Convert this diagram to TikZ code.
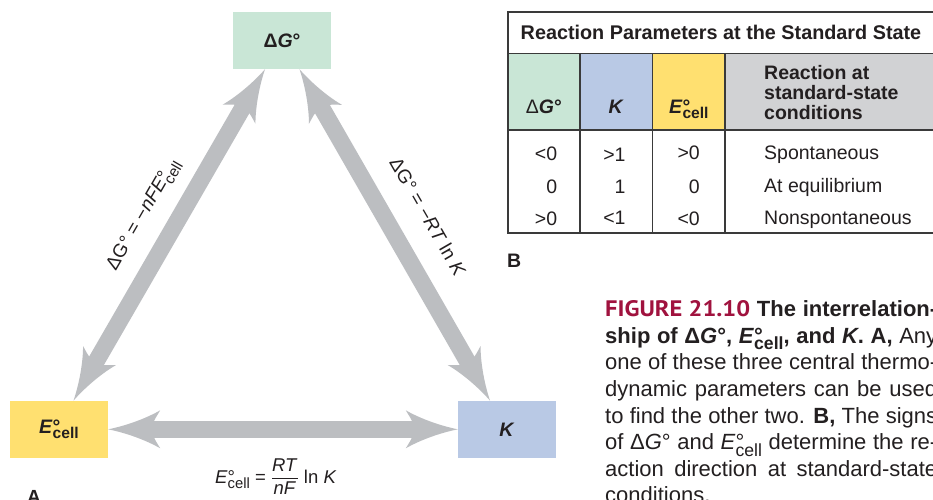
\documentclass[tikz,border=0pt]{standalone}
\usepackage{fontspec}
\setmainfont{Liberation Sans}
\newfontfamily\figfont{PT Sans}
\usetikzlibrary{arrows.meta,calc}
\definecolor{ink}{HTML}{231F20}
\definecolor{gboxc}{HTML}{C9E6D6}
\definecolor{kboxc}{HTML}{B9C9E5}
\definecolor{eboxc}{HTML}{FFE070}
\definecolor{hgray}{HTML}{D1D2D4}
\definecolor{arrgray}{HTML}{BCBEC1}
\definecolor{tline}{HTML}{3A3A3A}
\definecolor{figred}{HTML}{A0123E}
\newcommand{\dsub}[1]{\rlap{°}\raisebox{-0.3em}{\scalebox{0.8}{#1}}}
\pgfdeclarearrow{
  name = Flare,
  setup code = {
    \pgfarrowssettipend{0pt}
    \pgfarrowssetlineend{-40pt}
    \pgfarrowssetvisualbackend{-52pt}
    \pgfarrowssetbackend{-52pt}
    \pgfarrowshullpoint{0pt}{0pt}
    \pgfarrowshullpoint{-52pt}{19pt}
    \pgfarrowshullpoint{-52pt}{-19pt}
  },
  drawing code = {
    \pgfpathmoveto{\pgfpoint{0pt}{0pt}}
    \pgfpathcurveto{\pgfpoint{-20pt}{4pt}}{\pgfpoint{-40pt}{12pt}}{\pgfpoint{-52pt}{19pt}}
    \pgfpathcurveto{\pgfpoint{-49pt}{14pt}}{\pgfpoint{-47pt}{11pt}}{\pgfpoint{-46pt}{8.5pt}}
    \pgfpathlineto{\pgfpoint{-46pt}{-8.5pt}}
    \pgfpathcurveto{\pgfpoint{-47pt}{-11pt}}{\pgfpoint{-49pt}{-14pt}}{\pgfpoint{-52pt}{-19pt}}
    \pgfpathcurveto{\pgfpoint{-40pt}{-12pt}}{\pgfpoint{-20pt}{-4pt}}{\pgfpoint{0pt}{0pt}}
    \pgfpathclose
    \pgfusepathqfill
  }
}
\begin{document}
\begin{tikzpicture}[x=1pt,y=-1pt,
  box/.style={inner sep=0, minimum width=98pt, minimum height=57pt, font=\fontsize{19.5}{22}\selectfont\bfseries, text=ink},
  fat/.style={color=arrgray, line width=17pt, Flare-Flare},
  lbl/.style={inner sep=0, text=ink, font=\fontsize{19}{22}\selectfont},
  tt/.style={inner sep=0, text=ink, font=\fontsize{19.5}{20}\selectfont},
  th/.style={inner sep=0, text=ink, font=\fontsize{19.5}{20}\selectfont\bfseries},
  tl/.style={draw=tline, line width=1.5pt}]
\useasboundingbox (0,0) rectangle (933,499);
\clip (0,0) rectangle (933,499);
\fill[white] (0,0) rectangle (933,499);

% ---- triangle diagram
\node[box, fill=gboxc] (G) at (282,40.5) {Δ\textit{G}°};
\node[box, fill=eboxc] (E) at (59,429.3) {\textit{E}\dsub{cell}};
\node[box, fill=kboxc] (K) at (507,429.3) {\textit{K}};

\coordinate (Et) at ([xshift=14.5pt]E.north);
\coordinate (Gl) at ([xshift=-17pt]G.south);
\coordinate (Gr) at ([xshift=17.5pt]G.south);
\coordinate (Kt) at ([xshift=-17pt]K.north);

\draw[fat] (E.east) -- (K.west);
\draw[fat] (Et) -- (Gl);
\draw[fat] (Gr) -- (Kt);

\node[lbl, rotate=60] (l1) at (144,215) {ΔG° = −\textit{nFE}\dsub{cell}};
\node[lbl, rotate=-60] (l2) at (428,217) {ΔG° = −\textit{RT} ln \textit{K}};
\node[lbl, anchor=base west, font=\fontsize{18.5}{22}\selectfont] (l3) at (215,483)
  {\textit{E}\dsub{cell} = $\displaystyle\frac{\mbox{\textit{RT}}}{\mbox{\textit{nF}}}$ ln \textit{K}};

\node[th, anchor=base west, font=\fontsize{19}{22}\selectfont\bfseries] (pA) at (27,503.6) {A};
\node[th, anchor=base west, font=\fontsize{19.5}{22}\selectfont\bfseries] (pB) at (507,267) {B};

% ---- table
\fill[gboxc] (507.7,53.3) rectangle (580,130);
\fill[kboxc] (580,53.3) rectangle (652.7,130);
\fill[eboxc] (652.7,53.3) rectangle (725,130);
\fill[hgray] (725,53.3) rectangle (960,130);
\draw[tl] (507.7,53.3) -- (960,53.3);
\draw[tl] (507.7,130) -- (960,130);
\draw[tl] (580,53.3) -- (580,233.3);
\draw[tl] (652.7,53.3) -- (652.7,233.3);
\draw[tl] (725,53.3) -- (725,233.3);
\draw[draw=tline, line width=2pt] (507.7,12) rectangle (960,233.3);

\node[th, anchor=base west, font=\fontsize{19.8}{22}\selectfont\bfseries] (title) at (520.5,39.3) {Reaction Parameters at the Standard State};

\node[tt, anchor=base] (hG) at (543.8,113) {Δ\textbf{\textit{G}°}};
\node[th, anchor=base] (hK) at (616.3,113) {\textit{K}};
\node[th, anchor=base] (hE) at (688.8,113) {\textit{E}\dsub{cell}};
\node[th, anchor=base west] (hR1) at (764,79.3) {Reaction at};
\node[th, anchor=base west] (hR2) at (764,99.3) {standard-state};
\node[th, anchor=base west] (hR3) at (764,119) {conditions};

\node[tt, anchor=base east] (a1) at (557.3,160) {<0};
\node[tt, anchor=base east] (a2) at (557.3,193) {0};
\node[tt, anchor=base east] (a3) at (557.3,225) {>0};
\node[tt, anchor=base east] (b1) at (625.7,161.5) {>1};
\node[tt, anchor=base east] (b2) at (625.7,193) {1};
\node[tt, anchor=base east] (b3) at (625.7,224) {<1};
\node[tt, anchor=base east] (c1) at (700,159.5) {>0};
\node[tt, anchor=base east] (c2) at (700,193) {0};
\node[tt, anchor=base east] (c3) at (700,225.5) {<0};
\node[tt, anchor=base west] (d1) at (764,159.3) {Spontaneous};
\node[tt, anchor=base west] (d2) at (764,192.7) {At equilibrium};
\node[tt, anchor=base west] (d3) at (764,224) {Nonspontaneous};

% ---- caption
\node[anchor=base west, inner sep=0, text=ink] (cap) at (605,316.7) {\parbox[t]{332pt}{\fontsize{22}{26.6}\selectfont
\hbox to 332pt{\textcolor{figred}{\resizebox{145pt}{16pt}{\figfont\bfseries FIGURE 21.10}} \textbf{The interrelation-}}
\hbox to 332pt{\textbf{ship of Δ\textit{G}°, \textit{E}\dsub{cell}, and \textit{K}. A,} Any}
\hbox to 332pt{one of these three central thermo-}
\hbox to 332pt{dynamic parameters can be used}
\hbox to 332pt{to find the other two. \textbf{B,} The signs}
\hbox to 332pt{of Δ\textit{G}° and \textit{E}\dsub{cell} determine the re-}
\hbox to 332pt{action direction at standard-state}
\hbox{conditions.}}};
\end{tikzpicture}
\end{document}
